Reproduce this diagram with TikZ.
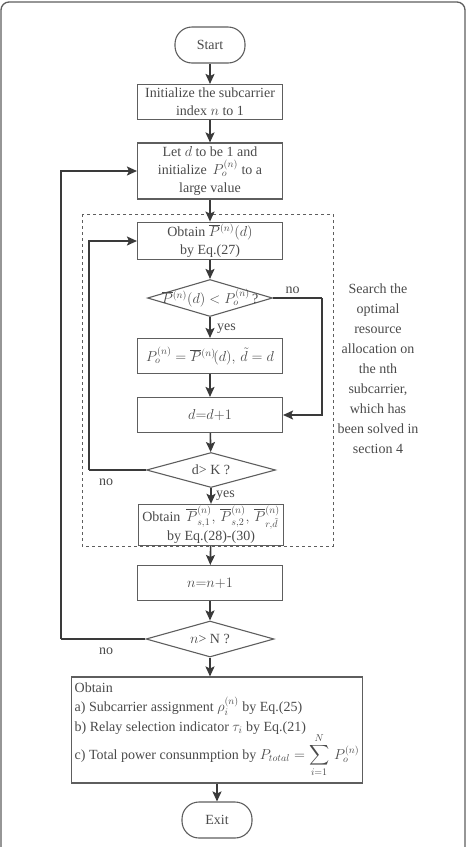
\documentclass[tikz,border=0pt]{standalone}
\usepackage{amsmath,amssymb}
\usepackage{fontspec}
\setmainfont{Liberation Serif}
\usetikzlibrary{arrows.meta,shapes.geometric,calc}
\definecolor{linegray}{HTML}{3A3A3A}
\definecolor{boxgray}{HTML}{5E5E5E}
\definecolor{txtgray}{HTML}{4A4A4A}

\begin{document}
\begin{tikzpicture}[x=1pt,y=1pt,
    every node/.style={font=\fontsize{14}{18}\selectfont, text=txtgray},
    box/.style={draw=boxgray, line width=1.1pt, minimum width=145, minimum height=35, inner sep=2pt, align=center},
    term/.style={draw=boxgray, line width=1.1pt, rounded corners=17, minimum width=70, minimum height=36},
    decide/.style={draw=boxgray, line width=1.1pt, diamond, minimum width=127, minimum height=36, inner sep=0pt},
    flow/.style={draw=linegray, line width=1.6pt, -{Stealth[length=10pt,width=9pt,inset=2pt]}},
    link/.style={draw=linegray, line width=1.6pt}]
        \useasboundingbox(0,0)rectangle(467,-847);
        % frame
        \path[draw=boxgray, line width=1.3pt, rounded corners=8](1,-847)--(1,-2)--(465,-2)--(465,-847);
        \path[draw=boxgray, line width=0.9pt, dashed](82,-214)rectangle(333,-546);
        % steps
        \node[term](start)at(210,-45){Start};
        \node[box](init)at(210,-102){Initialize the subcarrier\\index $n$ to 1};
        \node[box, minimum height=56](let)at(210,-171){Let $d$ to be 1 and\\initialize \,$P_o^{(n)}$ to a\\large value};
        \node[box](obt)at(210,-241){Obtain $\overline{P}{}^{(n)}(d)$\\by Eq.(27)};
        \node[decide, minimum width=125, minimum height=37, label={center:$\overline{P}{}^{(n)}(d)<P_o^{(n)}$\,?}](dia1)at(210,-298){};
        \node[box](upd)at(210,-356){$P_o^{(n)}=\overline{P}{}^{(n)}\!(d),\,\tilde{d}=d$};
        \node[box](inc)at(210,-415){$d{=}d{+}1$};
        \node[decide, minimum width=129, minimum height=35, label={center:d> K ?}](dia2)at(211,-470){};
        \node[box](res)at(211,-525){Obtain \,$\overline{P}{}^{(n)}_{s,1},\,\overline{P}{}^{(n)}_{s,2},\,\overline{P}{}^{(n)}_{r,\tilde{d}}$\\by Eq.(28)-(30)};
        \node[box](next)at(210,-583){$n{=}n{+}1$};
        \node[decide, minimum width=128, minimum height=36, label={center:$n$> N ?}](dia3)at(210,-639){};
        \node[box, minimum width=279, minimum height=106, inner sep=3pt, align=left](fin)at(217,-730){Obtain\\[1pt]a) Subcarrier assignment $\rho_i^{(n)}$ by Eq.(25)\\[2pt]b) Relay selection indicator $\tau_i$ by Eq.(21)\\[-2pt]c) Total power consunmption by $P_{total}=\displaystyle\sum_{i=1}^{N}\,P_o^{(n)}$};
        \node[term](exit)at(217,-820){Exit};
        \node[align=center, font=\fontsize{14}{20}\selectfont](note)at(378,-369){Search the\\optimal\\resource\\allocation on\\the nth\\subcarrier,\\which has\\been solved in\\section 4};
        % loop corners
        \coordinate(turn1)at(322,-298);
        \coordinate(turn2)at(89,-470);
        \coordinate(turn3)at(61,-639);
        % arrows
        \path[flow](start)--(init);
        \path[flow](init)--(let);
        \path[flow](let)--(obt);
        \path[flow](obt)--(dia1);
        \path[flow](dia1)--(upd)node[pos=0.55, right, xshift=3pt]{yes};
        \path[flow](upd)--(inc);
        \path[flow](inc)--(dia2);
        \path[flow](dia2)--(res)node[pos=0.5, right, xshift=1pt]{yes};
        \path[flow](res)--(next);
        \path[flow](next)--(dia3);
        \path[flow](dia3.south)--(dia3.south|-fin.north);
        \path[flow](fin.south-|exit)--(exit);
        \path[link](dia1.east)--(turn1)node[pos=0.4, above]{no};
        \path[flow](turn1)|-(inc.east);
        \path[link](dia2.west)--(turn2);
        \path[flow](turn2)|-(obt.west);
        \path[link](dia3.west)--(turn3);
        \path[flow](turn3)|-(let.west);
        \node(no2)at(106,-482){no};
        \node(no3)at(106,-651){no};
    \end{tikzpicture}
\end{document}
